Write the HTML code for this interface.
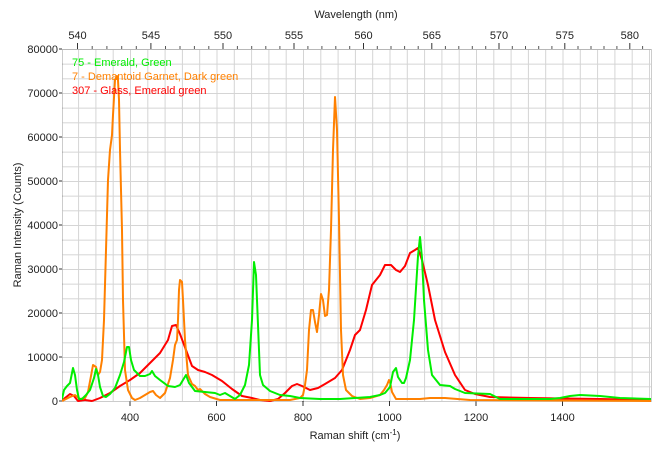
<!DOCTYPE html>
<html><head><meta charset="utf-8"><style>
html,body{margin:0;padding:0;background:#fff;}
svg{display:block;font-family:"Liberation Sans",sans-serif;}
</style></head><body>
<svg width="670" height="450" viewBox="0 0 670 450" xmlns="http://www.w3.org/2000/svg">
<defs>
<pattern id="gv" patternUnits="userSpaceOnUse" x="130" y="0" width="17.3" height="450"><line x1="0.5" y1="0" x2="0.5" y2="450" stroke="#d4d4d4" stroke-width="1"/></pattern>
<pattern id="gh" patternUnits="userSpaceOnUse" x="0" y="401" width="670" height="14.6667"><line x1="0" y1="0.5" x2="670" y2="0.5" stroke="#d4d4d4" stroke-width="1"/></pattern>
<clipPath id="cp"><rect x="62" y="49" width="589" height="353"/></clipPath>
</defs>
<rect width="670" height="450" fill="#fff"/>
<rect x="62" y="49" width="589" height="352" fill="url(#gv)"/>
<rect x="62" y="49" width="589" height="352" fill="url(#gh)"/>
<rect x="62.5" y="49.5" width="589" height="352" fill="none" stroke="#999" stroke-dasharray="1,1"/>

<g font-size="11" fill="#222" text-anchor="end">
<text x="58" y="405">0</text><text x="58" y="361">10000</text><text x="58" y="317">20000</text><text x="58" y="273">30000</text>
<text x="58" y="229">40000</text><text x="58" y="185">50000</text><text x="58" y="141">60000</text><text x="58" y="97">70000</text><text x="58" y="53">80000</text>
</g>
<g stroke="#333"><line x1="59" y1="401" x2="62" y2="401"/><line x1="59" y1="357" x2="62" y2="357"/><line x1="59" y1="313" x2="62" y2="313"/><line x1="59" y1="269" x2="62" y2="269"/><line x1="59" y1="225" x2="62" y2="225"/><line x1="59" y1="181" x2="62" y2="181"/><line x1="59" y1="137" x2="62" y2="137"/><line x1="59" y1="93" x2="62" y2="93"/><line x1="59" y1="49" x2="62" y2="49"/></g>
<text x="21" y="225" font-size="11" fill="#222" text-anchor="middle" transform="rotate(-90 21 225)">Raman Intensity (Counts)</text>

<g stroke="#333">
<line x1="130" y1="401" x2="130" y2="406"/><line x1="216.5" y1="401" x2="216.5" y2="406"/><line x1="303" y1="401" x2="303" y2="406"/><line x1="389.5" y1="401" x2="389.5" y2="406"/><line x1="476" y1="401" x2="476" y2="406"/><line x1="562.5" y1="401" x2="562.5" y2="406"/>
</g>
<g font-size="11" fill="#222" text-anchor="middle">
<text x="130" y="421">400</text><text x="216.5" y="421">600</text><text x="303" y="421">800</text><text x="389.5" y="421">1000</text><text x="476" y="421">1200</text><text x="562.5" y="421">1400</text>
<text x="355" y="439">Raman shift (cm<tspan font-size="8" dy="-4">-1</tspan><tspan dy="4">)</tspan></text>
</g>

<g stroke="#333">
<line x1="77.5" y1="43" x2="77.5" y2="49"/><line x1="150.9" y1="43" x2="150.9" y2="49"/><line x1="223" y1="43" x2="223" y2="49"/><line x1="294" y1="43" x2="294" y2="49"/><line x1="363.5" y1="43" x2="363.5" y2="49"/><line x1="431.8" y1="43" x2="431.8" y2="49"/><line x1="499" y1="43" x2="499" y2="49"/><line x1="564.8" y1="43" x2="564.8" y2="49"/><line x1="629.8" y1="43" x2="629.8" y2="49"/>
</g>
<g stroke="#555">
<line x1="92.2" y1="46" x2="92.2" y2="49"/><line x1="106.9" y1="46" x2="106.9" y2="49"/><line x1="121.7" y1="46" x2="121.7" y2="49"/><line x1="136.3" y1="46" x2="136.3" y2="49"/>
<line x1="165.5" y1="46" x2="165.5" y2="49"/><line x1="180" y1="46" x2="180" y2="49"/><line x1="194.4" y1="46" x2="194.4" y2="49"/><line x1="208.8" y1="46" x2="208.8" y2="49"/>
<line x1="237.4" y1="46" x2="237.4" y2="49"/><line x1="251.7" y1="46" x2="251.7" y2="49"/><line x1="265.8" y1="46" x2="265.8" y2="49"/><line x1="279.9" y1="46" x2="279.9" y2="49"/>
<line x1="307.9" y1="46" x2="307.9" y2="49"/><line x1="321.9" y1="46" x2="321.9" y2="49"/><line x1="335.8" y1="46" x2="335.8" y2="49"/><line x1="349.7" y1="46" x2="349.7" y2="49"/>
<line x1="377.3" y1="46" x2="377.3" y2="49"/><line x1="391" y1="46" x2="391" y2="49"/><line x1="404.6" y1="46" x2="404.6" y2="49"/><line x1="418.2" y1="46" x2="418.2" y2="49"/>
<line x1="445.4" y1="46" x2="445.4" y2="49"/><line x1="458.8" y1="46" x2="458.8" y2="49"/><line x1="472.3" y1="46" x2="472.3" y2="49"/><line x1="485.7" y1="46" x2="485.7" y2="49"/>
<line x1="512.3" y1="46" x2="512.3" y2="49"/><line x1="525.5" y1="46" x2="525.5" y2="49"/><line x1="538.7" y1="46" x2="538.7" y2="49"/><line x1="551.9" y1="46" x2="551.9" y2="49"/>
<line x1="578" y1="46" x2="578" y2="49"/><line x1="591" y1="46" x2="591" y2="49"/><line x1="604" y1="46" x2="604" y2="49"/><line x1="616.9" y1="46" x2="616.9" y2="49"/><line x1="642.6" y1="46" x2="642.6" y2="49"/>
</g>
<g font-size="11" fill="#222" text-anchor="middle">
<text x="77.5" y="39">540</text><text x="150.9" y="39">545</text><text x="223" y="39">550</text><text x="294" y="39">555</text><text x="363.5" y="39">560</text><text x="431.8" y="39">565</text><text x="499" y="39">570</text><text x="564.8" y="39">575</text><text x="629.8" y="39">580</text>
<text x="356" y="18">Wavelength (nm)</text>
</g>

<g clip-path="url(#cp)" fill="none" stroke-width="2" stroke-linejoin="round">
<polyline stroke="#ff0000" points="62,401 65,398 70,394 74,396 78,401 85,400 92,401 100,398 110,393 120,386 130,380 140,373 150,363 160,353 168,340 172,326 176,325 180,334 186,350 192,366 198,370 205,372 212,375 222,381 232,389 242,396 252,398 260,400 270,401 278,399 285,393 292,386 297,384 302,386 310,390 318,388 325,384 335,378 342,370 350,350 355,335 360,330 366,310 372,285 380,275 385,265 391,265 396,270 400,272 405,266 410,253 415,250 418,248 422,260 428,285 435,320 445,352 455,375 465,390 475,394 490,397 530,398 600,399 651,400"/>
<polyline stroke="#ff8000" points="62,401 70,397 75,395 80,399 85,398 88,392 91,376 93,365 96,367 98,375 100,372 102,360 104,320 106,250 108,180 110,150 112,135 113,115 115,80 117,76 118,80 119,100 120,150 122,230 123,300 125,370 128,390 132,398 135,400 140,398 145,395 150,392 153,391 156,395 160,398 165,393 170,378 173,360 175,345 177,340 178,320 179,290 180,280 182,282 183,300 185,340 188,375 192,384 195,386 198,390 200,389 205,394 210,397 220,400 250,400 290,400 300,398 303,395 305,385 307,370 309,330 311,310 313,310 315,322 317,332 319,315 321,294 323,300 325,316 327,315 329,290 331,230 333,150 335,97 337,130 339,220 341,330 343,375 346,390 352,396 360,399 370,398 380,395 384,390 387,385 389,380 390,382 392,392 396,399 420,399 430,398 445,398 470,400 651,401"/>
<polyline stroke="#00ee00" points="62,399 64,390 67,386 70,383 73,368 75,375 77,390 79,399 82,399 86,395 90,390 94,378 96,369 98,375 100,387 103,396 106,397 110,394 115,388 120,375 124,362 127,347 129,347 131,360 134,370 140,376 145,376 150,374 152,371 155,376 160,380 168,386 175,387 180,385 183,380 186,375 189,383 195,391 205,392 215,393 220,395 225,393 230,396 235,399 240,395 245,385 249,365 252,320 254,262 256,275 258,325 260,375 263,385 270,391 280,395 290,396 300,398 320,399 340,399 370,397 380,395 385,393 390,387 393,372 396,368 398,377 402,383 404,383 406,378 410,360 414,320 418,256 420,237 422,258 424,300 428,350 432,375 440,385 450,386 455,389 465,393 490,394 494,396 500,399 550,399 560,398 570,396 580,395 600,396 620,398 651,399"/>
</g>

<g font-size="11">
<text x="72" y="66" fill="#00ee00">75 - Emerald, Green</text>
<text x="72" y="80" fill="#ff8000">7 - Demantoid Garnet, Dark green</text>
<text x="72" y="94" fill="#ff0000">307 - Glass, Emerald green</text>
</g>
</svg>
</body></html>
